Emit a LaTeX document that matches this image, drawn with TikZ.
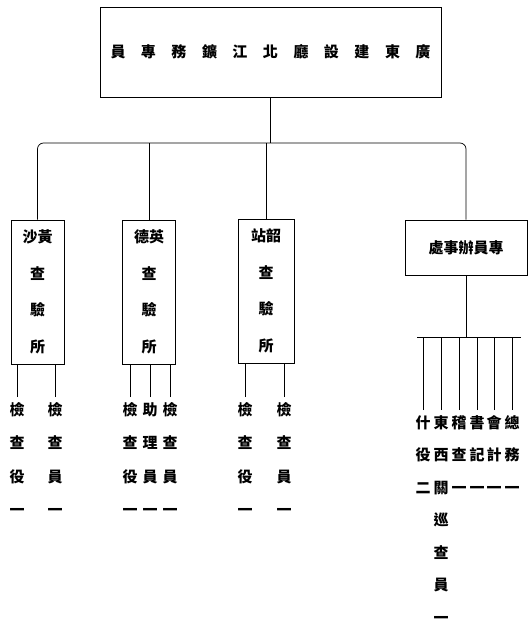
\documentclass[tikz,border=0pt]{standalone}
\usepackage{fontspec}
\newfontfamily\cjk{Noto Sans CJK TC}
\usetikzlibrary{positioning}

\begin{document}
\begin{tikzpicture}[x=1pt, y=-1pt, line width=0.7pt,
    font=\cjk\bfseries\fontsize{15}{33.5}\selectfont,
    box/.style={draw, rectangle, line width=1pt, align=center, inner sep=0pt},
    station/.style={box, minimum width=53, minimum height=144, font=\cjk\bfseries\fontsize{15}{36.5}\selectfont},
    col/.style={align=center, anchor=north, inner xsep=0pt, inner ysep=1pt},
    staffline/.style={shorten <=4pt}]
    \useasboundingbox (0,0) rectangle (528,629);

    % top office and the four branches
    \node[box, minimum width=341, minimum height=90] (bureau) at (270.5,52)
        {員\hspace{15.5pt}專\hspace{15.5pt}務\hspace{15.5pt}鑛\hspace{15.5pt}江\hspace{15.5pt}北\hspace{15.5pt}廳\hspace{15.5pt}設\hspace{15.5pt}建\hspace{15.5pt}東\hspace{15.5pt}廣};
    \node[station] (huangsha) at (37.5,292) {沙黃\\查\\驗\\所};
    \node[station] (yingde) at (149,292) {德英\\查\\驗\\所};
    \node[station, minimum width=56] (shaozhan) at (266,291) {站韶\\查\\驗\\所};
    \node[box, minimum width=122, minimum height=55] (office) at (466,247.5) {處事辦員專};

    \coordinate (bus) at (270.5,143);
    \draw (bureau) -- (bus);
    \draw[rounded corners=6pt] (huangsha) |- (bus) -| (office);
    \draw (yingde) -- (yingde |- bus);
    \draw (shaozhan) -- (shaozhan |- bus);

    % staff under the stations
    \node[col] (hs1) at (17,401) {檢\\查\\役\\一};
    \node[col] (hs2) at (55,401) {檢\\查\\員\\一};
    \node[col] (yd1) at (130,401) {檢\\查\\役\\一};
    \node[col] (yd2) at (150,401) {助\\理\\員\\一};
    \node[col] (yd3) at (170,401) {檢\\查\\員\\一};
    \node[col] (sz1) at (245,401) {檢\\查\\役\\一};
    \node[col] (sz2) at (284,401) {檢\\查\\員\\一};
    \foreach \c/\b in {hs1/huangsha, hs2/huangsha, yd1/yingde, yd2/yingde, yd3/yingde, sz1/shaozhan, sz2/shaozhan}
        \draw[staffline] (\c) -- (\c |- \b.south);

    % staff under the office
    \coordinate (barW) at (417,337);
    \coordinate (barE) at (521,337);
    \draw (office) -- (office |- barW);
    \draw (barW) -- (barE);
    \begin{scope}[font=\cjk\bfseries\fontsize{15}{32.5}\selectfont]
    \node[col] (zayi) at (423,414) {什\\役\\二};
    \node[col] (xunzha) at (441,414) {東\\西\\關\\巡\\查\\員\\一};
    \node[col] (jicha) at (459,414) {稽\\查\\一};
    \node[col] (shuji) at (477,414) {書\\記\\一};
    \node[col] (kuaiji) at (494,414) {會\\計\\一};
    \node[col] (zongwu) at (512,414) {總\\務\\一};
    \end{scope}
    \foreach \c in {zayi, xunzha, jicha, shuji, kuaiji, zongwu}
        \draw[staffline] (\c) -- (\c |- barW);
\end{tikzpicture}
\end{document}
